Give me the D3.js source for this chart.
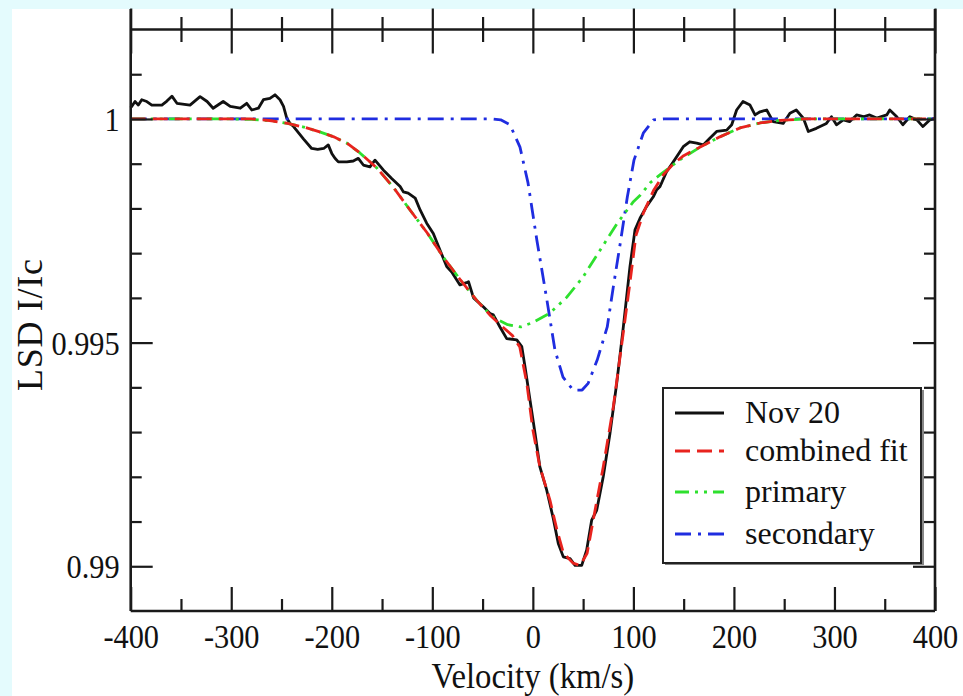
<!DOCTYPE html>
<html>
<head>
<meta charset="utf-8">
<script src="https://cdn.jsdelivr.net/npm/d3@7"></script>
<style>
  html, body { margin: 0; padding: 0; background: #e4fbfd; }
  svg { display: block; }
  text { font-family: "Liberation Serif", "Times New Roman", serif; fill: #111; }
</style>
</head>
<body>
<svg id="chart" width="963" height="696"></svg>
<script>
// observed LSD profile (velocity km/s, I/Ic)
const observed = [
  [-400,1.00025],[-399,1.00028],[-395.7,1.00039],[-392.4,1.00031],[-389,1.00043],[-384,1.00039],[-379,1.00031],
  [-369,1.00031],[-364,1.00040],[-359,1.00051],[-354,1.00035],[-341,1.00031],[-331,1.00050],[-324,1.00039],
  [-318,1.00024],[-308,1.00039],[-301,1.00028],[-291,1.00024],[-284.6,1.00035],[-279.6,1.00020],[-273,1.00024],
  [-268,1.00043],[-261.5,1.00046],[-256.5,1.00054],[-251.5,1.00043],[-248,1.00028],[-244.8,1.00002],
  [-241.5,0.99990],[-238,0.99983],[-228,0.99955],[-220,0.99934],[-214,0.99932],[-208,0.99934],[-203.5,0.99942],
  [-200,0.99923],[-196.8,0.99912],[-193.5,0.99904],[-185,0.99904],[-178.6,0.99906],[-173.6,0.99912],
  [-168.6,0.99897],[-162,0.99893],[-157,0.99908],[-148.8,0.99886],[-140.4,0.99867],[-132,0.99849],
  [-128.8,0.99837],[-124,0.99834],[-117,0.99823],[-112,0.99796],[-105.6,0.99767],[-99,0.99744],[-92.4,0.99707],
  [-85.7,0.99670],[-80.7,0.99658],[-72.5,0.99629],[-66,0.99634],[-64,0.99636],[-59,0.99600],[-49.3,0.99580],
  [-42.6,0.99565],[-39.3,0.99562],[-32.7,0.99535],[-26,0.99509],[-16,0.99506],[-11,0.99491],[-7.8,0.99446],
  [-2.8,0.99371],[2.2,0.99297],[7,0.99222],[13.8,0.99170],[20,0.99110],[25.3,0.99051],[30.3,0.99021],
  [37,0.99017],[42,0.99002],[48.6,0.99002],[53.5,0.99036],[58.5,0.99103],[63.5,0.99125],[70,0.99200],
  [76.7,0.99297],[83.4,0.99409],[90,0.99535],[96.6,0.99670],[101.6,0.99752],[106.6,0.99778],[113,0.99804],
  [119.8,0.99826],[123,0.99841],[126.5,0.99849],[133,0.99882],[139.7,0.99904],[149.6,0.99938],[156,0.99949],
  [163,0.99946],[169.5,0.99942],[176,0.99957],[182.8,0.99972],[192.8,0.99975],[197.8,0.99987],[202.7,1.00020],
  [209,1.00039],[216,1.00031],[221,1.00009],[226,1.00016],[232.6,1.00020],[239,0.99994],[249,0.99990],
  [255.7,1.00013],[262,1.00020],[269,1.00002],[274,0.99972],[282,0.99979],[292,0.99990],[297,1.00005],
  [302,0.99987],[308.8,0.99998],[315,0.99994],[322,1.00009],[328.7,1.00005],[335,1.00009],[342,1.00002],
  [352,1.00009],[355,1.00020],[362,1.00005],[368,0.99987],[375,1.00005],[382,0.99998],[388,0.99983],
  [395,0.99998],[400,1.00002]
];

// combined two-star fit
const combinedFit = [
  [-400,1],[-280,1],[-260,0.99996],[-244,0.99990],[-228,0.99982],[-212,0.99971],[-198,0.99960],[-185,0.99946],
  [-172,0.99924],[-155,0.99890],[-139,0.99848],[-122,0.99796],[-105,0.99745],[-89,0.99691],[-72,0.99640],
  [-56,0.99595],[-42,0.99560],[-30,0.99535],[-20,0.99515],[-13,0.99490],[-6,0.99409],[0,0.99305],[7,0.99222],
  [17,0.99148],[24,0.99081],[30.5,0.99029],[40,0.99007],[47,0.99002],[54,0.99029],[60,0.99103],[70,0.99222],
  [80,0.99356],[89,0.99506],[96,0.99624],[102.6,0.99740],[110,0.99790],[120,0.99840],[130,0.99876],
  [140,0.99900],[150,0.99918],[167,0.99938],[186,0.99960],[206,0.99980],[226,0.99991],[246,0.99997],
  [270,1],[400,1]
];

// primary component
const primary = [
  [-400,1],[-300,1],[-280,0.99999],[-260,0.99996],[-244,0.99990],[-228,0.99982],[-212,0.99971],[-198,0.99960],
  [-185,0.99946],[-172,0.99924],[-155,0.99890],[-139,0.99848],[-122,0.99796],[-105,0.99745],[-89,0.99691],
  [-72,0.99640],[-56,0.99595],[-40,0.99557],[-25,0.99540],[-12,0.99535],[0,0.99545],[17,0.99566],[34,0.99602],
  [50,0.99647],[67,0.99707],[84,0.99767],[100,0.99815],[107,0.99830],[117,0.99858],[127,0.99876],[147,0.99910],
  [167,0.99938],[186,0.99960],[206,0.99980],[226,0.99991],[246,0.99997],[270,1],[400,1]
];

// secondary component
const secondary = [
  [-400,1],[-40,1],[-32,0.99998],[-22.7,0.99987],[-12.8,0.99937],[-4.8,0.99857],[4,0.99729],[14,0.99595],
  [22,0.99483],[30,0.99423],[40,0.99394],[49,0.99394],[55,0.99409],[64,0.99461],[74,0.99535],[80,0.99624],
  [87,0.99723],[94,0.99826],[100.6,0.99908],[110,0.99969],[120,0.99998],[130,1],[400,1]
];

const xMajor = [-400, -300, -200, -100, 0, 100, 200, 300, 400];
const xMinor = [-350, -250, -150, -50, 50, 150, 250, 350];
const yMajor = [0.99, 0.995, 1];
const yMinor = [0.991, 0.992, 0.993, 0.994, 0.996, 0.997, 0.998, 0.999, 1.001];

const legendItems = ['Nov 20', 'combined fit', 'primary', 'secondary'];

const svg = d3.select('#chart');
const plotL = 130.7, plotR = 935, plotT = 29.5, plotB = 611;

// white panel
svg.append('rect').attr('x', 12).attr('y', 9).attr('width', 951).attr('height', 687).attr('fill', '#fff');

const x = d3.scaleLinear().domain([-400, 400]).range([plotL, plotR]);
const y = d3.scaleLinear().domain([0.989, 1.002]).range([plotB, plotT]);

const styles = [
  { data: observed, color: '#111', dash: null, width: 2.8 },
  { data: combinedFit, color: '#e8231e', dash: '15,7', width: 2.8 },
  { data: primary, color: '#2ee02e', dash: '14,6,3,6,3,6', width: 2.8 },
  { data: secondary, color: '#1f2de0', dash: '16,7,3,7', width: 2.8 }
];

const line = d3.line().x(d => x(d[0])).y(d => y(d[1]));

// black first, then the components and the fit on top
[styles[0], styles[3], styles[2], styles[1]].forEach(s => {
  svg.append('path')
    .datum(s.data)
    .attr('d', line)
    .attr('fill', 'none')
    .attr('stroke', s.color)
    .attr('stroke-width', s.width)
    .attr('stroke-dasharray', s.dash)
    .attr('stroke-linejoin', 'round');
});

const axisColor = '#1a1a1a';

// bottom axis
const gx = svg.append('g').attr('transform', `translate(0,${plotB})`);
gx.call(d3.axisBottom(x).tickValues(xMajor).tickSizeInner(-24).tickSizeOuter(0).tickFormat(d => String(d)));
gx.append('g').call(d3.axisBottom(x).tickValues(xMinor).tickSizeInner(-12).tickSizeOuter(0).tickFormat(''));
gx.selectAll('text')
  .attr('font-size', 33)
  .attr('dy', null)
  .attr('y', 37)
  .attr('transform', 'scale(0.92,1)')
  .style('font-family', '"Liberation Serif", serif')
  .attr('fill', '#111');

// left axis
const gy = svg.append('g').attr('transform', `translate(${plotL},0)`);
gy.call(d3.axisLeft(y).tickValues(yMajor).tickSizeInner(-22).tickSizeOuter(0).tickPadding(12).tickFormat(d => String(d)));
gy.append('g').call(d3.axisLeft(y).tickValues(yMinor).tickSizeInner(-11).tickSizeOuter(0).tickFormat(''));
gy.selectAll('text')
  .attr('font-size', 33)
  .attr('dy', '0.35em')
  .attr('transform', 'scale(0.92,1)')
  .style('font-family', '"Liberation Serif", serif')
  .attr('fill', '#111');

// right axis
const gr = svg.append('g').attr('transform', `translate(${plotR},0)`);
gr.call(d3.axisRight(y).tickValues(yMajor).tickSizeInner(-22).tickSizeOuter(0).tickFormat(''));
gr.append('g').call(d3.axisRight(y).tickValues(yMinor).tickSizeInner(-11).tickSizeOuter(0).tickFormat(''));

// top axis (ticks cross the line)
const gt = svg.append('g').attr('transform', `translate(0,${plotT})`);
gt.call(d3.axisTop(x).tickValues(xMajor).tickSizeOuter(0).tickFormat(''));
gt.selectAll('.tick line').attr('y1', -21).attr('y2', 24);
const gtm = gt.append('g').call(d3.axisTop(x).tickValues(xMinor).tickSizeOuter(0).tickFormat(''));
gtm.selectAll('.tick line').attr('y1', -12.5).attr('y2', 12.5);

svg.selectAll('.domain').remove();
svg.selectAll('.tick line').attr('stroke', axisColor).attr('stroke-width', 2.2);

// frame lines
const frame = [
  [plotL, 9, plotL, plotB], [plotR, 9, plotR, plotB],
  [plotL, plotB, plotR, plotB], [plotL, plotT, plotR, plotT]
];
svg.append('g').selectAll('line').data(frame).join('line')
  .attr('x1', d => d[0]).attr('y1', d => d[1]).attr('x2', d => d[2]).attr('y2', d => d[3])
  .attr('stroke', axisColor).attr('stroke-width', 2.6);

// axis titles
svg.append('text')
  .attr('transform', `translate(${(plotL + plotR) / 2},688) scale(0.91,1)`)
  .attr('text-anchor', 'middle')
  .attr('font-size', 36)
  .text('Velocity (km/s)');

svg.append('text')
  .attr('transform', 'translate(42,325) rotate(-90)')
  .attr('text-anchor', 'middle')
  .attr('font-size', 36)
  .attr('textLength', 132)
  .text('LSD I/Ic');

// legend
const lg = svg.append('g');
lg.append('rect').attr('x', 665).attr('y', 390).attr('width', 259).attr('height', 175).attr('fill', '#888');
lg.append('rect').attr('x', 663).attr('y', 388).attr('width', 258).attr('height', 175)
  .attr('fill', '#fff').attr('stroke', '#222').attr('stroke-width', 2);

const rowY = [413, 451, 492, 534];
legendItems.forEach((name, i) => {
  const s = styles[i];
  lg.append('line')
    .attr('x1', 675).attr('x2', 724).attr('y1', rowY[i]).attr('y2', rowY[i])
    .attr('stroke', s.color).attr('stroke-width', 2.8)
    .attr('stroke-dasharray', s.dash);
  lg.append('text')
    .attr('x', 745).attr('y', rowY[i] + 10)
    .attr('font-size', 32)
    .text(name);
});
</script>
</body>
</html>
